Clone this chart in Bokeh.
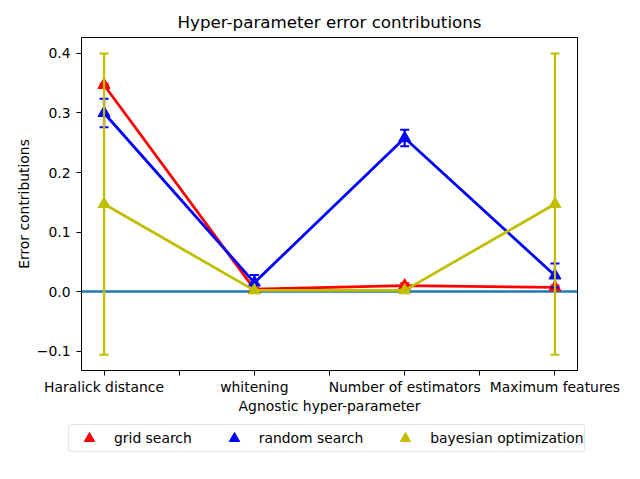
from bokeh.plotting import figure
from bokeh.layouts import column
from bokeh.models import (Range1d, FixedTicker, Legend, LegendItem,
                          ColumnDataSource, Span)
from bokeh.embed import file_html
from bokeh.resources import INLINE

categories = ["Haralick distance", "whitening", "Number of estimators", "Maximum features"]
x_pos = [0, 1, 2, 3]

grid_vals = [0.347, 0.004, 0.010, 0.007]
grid_err = [0.002, 0.002, 0.004, 0.003]

random_vals = [0.300, 0.015, 0.258, 0.027]
random_err = [0.024, 0.013, 0.014, 0.020]

bayes_vals = [0.147, 0.002, 0.002, 0.147]
bayes_err = [0.253, 0.001, 0.001, 0.253]

series = [
    ("grid search", grid_vals, grid_err, "#ff0000"),
    ("random search", random_vals, random_err, "#0000ff"),
    ("bayesian optimization", bayes_vals, bayes_err, "#bfbf00"),
]

FONT = "DejaVu Sans"
W = 627

p = figure(frame_width=496, frame_height=333, output_backend="svg", toolbar_location=None,
           x_range=Range1d(-0.15, 3.15), y_range=Range1d(-0.1326, 0.4268),
           min_border_left=81, min_border_right=50, min_border_top=37,
           min_border_bottom=50)

p.title.text = "Hyper-parameter error contributions"
p.title.text_font = FONT
p.title.text_font_size = "16.7px"
p.title.text_font_style = "normal"
p.title.text_color = "black"
p.title.align = "center"
p.title.standoff = 12

p.xgrid.visible = False
p.ygrid.visible = False
p.outline_line_color = "black"
p.outline_line_width = 1
p.outline_line_alpha = 1

# horizontal zero line
zero = Span(location=0, dimension="width", line_color="#1f77b4",
            line_width=2.5, level="underlay")
p.add_layout(zero)

# separate strip below the plot that carries the legend
lp = figure(width=W, height=42, output_backend="svg", toolbar_location=None,
            x_axis_type=None, y_axis_type=None,
            min_border_left=0, min_border_right=0, min_border_top=0,
            min_border_bottom=0)
lp.outline_line_color = None
lp.xgrid.visible = False
lp.ygrid.visible = False

aligned = True
try:
    p.frame_align = False
    lp.frame_align = False
    aligned = False
except Exception:
    aligned = True

items = []
for name, vals, errs, color in series:
    src = ColumnDataSource(dict(
        x=x_pos, y=vals,
        lo=[v - e for v, e in zip(vals, errs)],
        hi=[v + e for v, e in zip(vals, errs)],
    ))
    p.line("x", "y", source=src, line_color=color, line_width=2.8)
    p.segment(x0="x", y0="lo", x1="x", y1="hi", source=src,
              line_color=color, line_width=2.3)
    p.scatter("x", "lo", source=src, marker="dash", size=9,
              line_color=color, line_width=2)
    p.scatter("x", "hi", source=src, marker="dash", size=9,
              line_color=color, line_width=2)
    p.scatter("x", "y", source=src, marker="triangle", size=12,
              fill_color=color, line_color=color)
    # legend-only renderer (hidden) in the legend strip
    ltri = lp.scatter("x", "y", source=src, marker="triangle", size=12,
                      fill_color=color, line_color=color, visible=False)
    items.append(LegendItem(label=name, renderers=[ltri]))

# axes
xt = [0, 0.5, 1, 1.5, 2, 2.5, 3]
p.xaxis.ticker = FixedTicker(ticks=xt)
overrides = {}
for t in xt:
    overrides[t] = ""
for xi, c in zip(x_pos, categories):
    overrides[xi] = c
p.xaxis.major_label_overrides = overrides

yt = [-0.1, 0.0, 0.1, 0.2, 0.3, 0.4]
p.yaxis.ticker = FixedTicker(ticks=yt)
p.yaxis.major_label_overrides = {t: ("\u2212%.1f" % abs(t) if t < 0 else "%.1f" % t) for t in yt}

for ax in (p.xaxis[0], p.yaxis[0]):
    ax.major_label_text_font = FONT
    ax.major_label_text_font_size = "13.9px"
    ax.major_label_text_color = "black"
    ax.axis_label_text_font = FONT
    ax.axis_label_text_font_size = "13.9px"
    ax.axis_label_text_font_style = "normal"
    ax.axis_label_text_color = "black"
    ax.major_tick_out = 5
    ax.major_tick_in = 0
    ax.minor_tick_out = 0
    ax.minor_tick_in = 0
    ax.axis_line_color = "black"
    ax.major_tick_line_color = "black"

p.xaxis.major_label_standoff = 3
p.yaxis.major_label_standoff = 6
p.xaxis.axis_label = "Agnostic hyper-parameter"
p.yaxis.axis_label = "Error contributions"
p.xaxis.axis_label_standoff = 0
p.yaxis.axis_label_standoff = 2

legend = Legend(items=items, orientation="horizontal")
legend.label_text_font = FONT
legend.label_text_font_size = "13.9px"
legend.label_text_color = "black"
legend.border_line_color = "#cccccc"
legend.border_line_width = 1
legend.border_radius = 3
legend.margin = 0
legend.label_height = 16
legend.click_policy = "none"
if aligned:
    # legend must fit inside the aligned frame (81..577)
    legend.location = (0, 10)
    legend.padding = 5
    legend.glyph_height = 14
    legend.glyph_width = 24
    legend.label_standoff = 8
    legend.spacing = 20
else:
    legend.location = (68, 10)
    legend.padding = 0
    legend.glyph_height = 26
    legend.glyph_width = 40
    legend.label_standoff = 5
    legend.spacing = 22
lp.add_layout(legend, "center")

layout = column(p, lp, spacing=0)
open("out.html", "w").write(file_html(layout, INLINE))
